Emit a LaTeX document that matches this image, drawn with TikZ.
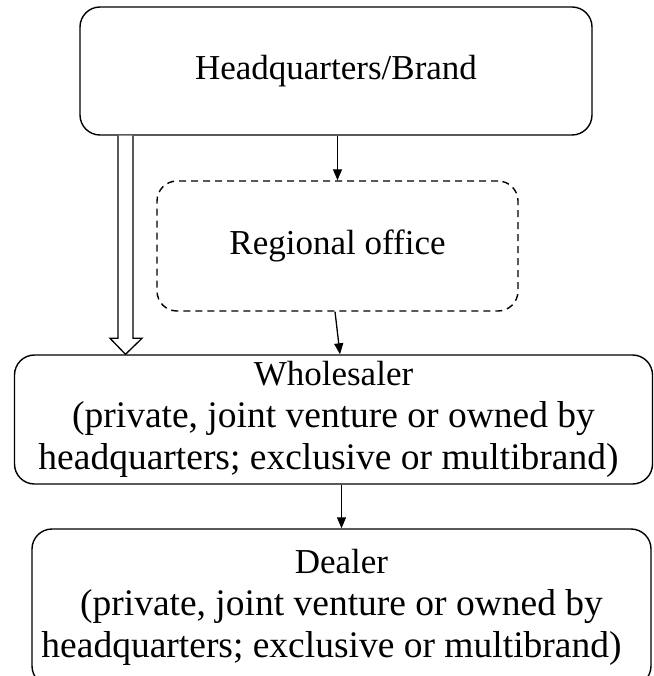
\documentclass[tikz,border=0pt]{standalone}
\usepackage{fontspec}
\setmainfont{Liberation Serif}
\usetikzlibrary{arrows.meta,calc}
\newcommand{\bigline}[2]{{\fontsize{37.5}{42}\selectfont #2\hspace*{#1}}}
\begin{document}
\begin{tikzpicture}[x=1pt,y=-1pt,
  box/.style={draw, line width=1.4pt, rounded corners=20pt, align=center, inner sep=0pt,
    font=\fontsize{35}{42}\selectfont},
  dbox/.style={box, dash pattern=on 7pt off 5pt},
  arr/.style={line width=1.3pt, -{Triangle[length=11pt,width=9pt]}},
  hollow/.style={line width=1.3pt, fill=white, line join=miter}]
\useasboundingbox (0,0) rectangle (653,676);
\clip (0,0) rectangle (653,676);
\node[box, minimum width=512pt, minimum height=128pt] (hq) at (336,71) {Headquarters/Brand};
\node[dbox, minimum width=361pt, minimum height=130pt] (ro) at (337.5,246) {Regional office};
\node[box, minimum width=638pt, minimum height=129pt] (wh) at (333.5,419.5)
  {Wholesaler\\\bigline{10pt}{(private, joint venture or owned by}\\\bigline{10pt}{headquarters; exclusive or multibrand)}};
\node[box, minimum width=619pt, minimum height=157pt] (de) at (341.5,607.5)
  {Dealer\\\bigline{20pt}{(private, joint venture or owned by}\\\bigline{20pt}{headquarters; exclusive or multibrand)}};
\coordinate (ha) at (125.5,0);
\draw[arr] (hq.south -| ro.north) -- (ro.north);
\draw[arr] ($(ro.south)+(-2.5,0)$) -- ($(wh.north)+(6.5,0)$);
\draw[arr] (wh.south -| de.north) -- (de.north);
\draw[hollow] ($(hq.south -| ha)+(-7.5,0)$) -- ($(wh.north -| ha)+(-7.5,-16)$)
  -- ($(wh.north -| ha)+(-15.5,-16)$) -- (wh.north -| ha)
  -- ($(wh.north -| ha)+(16.5,-16)$) -- ($(wh.north -| ha)+(7.5,-16)$)
  -- ($(hq.south -| ha)+(7.5,0)$);
\end{tikzpicture}
\end{document}
